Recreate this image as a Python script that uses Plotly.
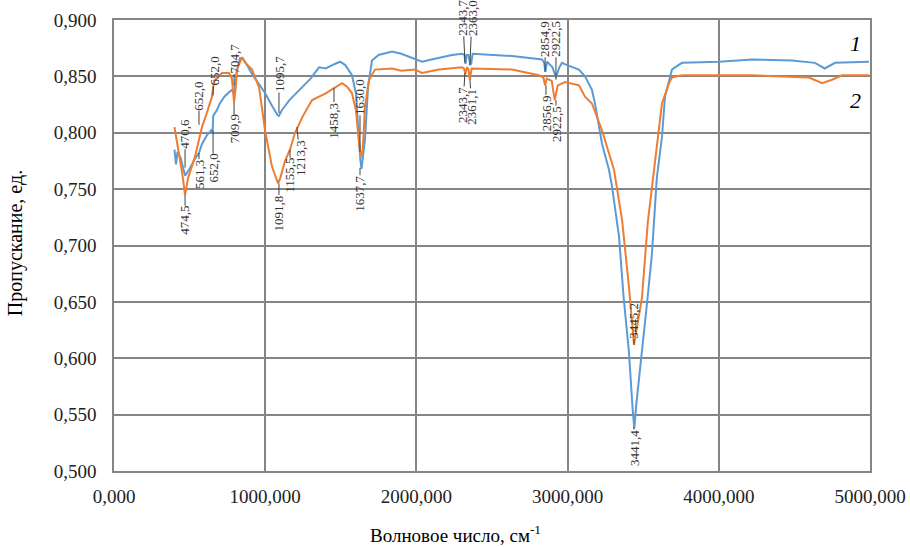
import plotly.graph_objects as go

# ---- Series 1 (blue) ----
wn_1 = [400, 410, 420, 440, 470, 500, 536, 562, 582, 615, 648, 652, 656, 680, 700, 730, 761, 780, 794,
        813, 833, 850, 880, 913, 960, 1000, 1045, 1080, 1091, 1110, 1160, 1243, 1300, 1356, 1400, 1460,
        1495, 1530, 1574, 1600, 1620, 1630, 1637, 1645, 1660, 1680, 1706, 1750, 1839, 1900, 1991, 2037,
        2100, 2235, 2302, 2318, 2325, 2333, 2345, 2350, 2356, 2363, 2372, 2632, 2831, 2845, 2853, 2864,
        2900, 2923, 2945, 2963, 2996, 3075, 3115, 3161, 3181, 3228, 3274, 3294, 3340, 3370, 3406, 3430,
        3441, 3455, 3492, 3530, 3558, 3590, 3624, 3644, 3671, 3690, 3710, 3757, 4001, 4220, 4484, 4636,
        4700, 4769, 4993]
t_1 = [0.785, 0.772, 0.783, 0.778, 0.762, 0.768, 0.777, 0.782, 0.790, 0.798, 0.803, 0.800, 0.815, 0.820,
       0.826, 0.832, 0.836, 0.838, 0.834, 0.855, 0.866, 0.866, 0.860, 0.852, 0.843, 0.835, 0.824, 0.816,
       0.815, 0.820, 0.829, 0.840, 0.848, 0.858, 0.857, 0.861, 0.863, 0.860, 0.851, 0.835, 0.793, 0.775,
       0.768, 0.778, 0.794, 0.840, 0.864, 0.869, 0.872, 0.870, 0.865, 0.863, 0.865, 0.869, 0.870, 0.869,
       0.861, 0.869, 0.869, 0.866, 0.860, 0.862, 0.870, 0.868, 0.865, 0.862, 0.854, 0.863, 0.858, 0.849,
       0.858, 0.862, 0.860, 0.856, 0.850, 0.838, 0.826, 0.790, 0.767, 0.752, 0.708, 0.655, 0.605, 0.555,
       0.538, 0.560, 0.605, 0.655, 0.693, 0.760, 0.796, 0.832, 0.846, 0.856, 0.858, 0.862, 0.863, 0.865,
       0.864, 0.862, 0.857, 0.862, 0.863]

# ---- Series 2 (orange) ----
wn_2 = [400, 420, 450, 470, 490, 536, 582, 615, 648, 661, 690, 714, 761, 780, 794, 805, 813, 847, 870,
        913, 960, 999, 1045, 1085, 1100, 1131, 1164, 1197, 1250, 1310, 1400, 1462, 1508, 1540, 1574,
        1600, 1620, 1630, 1645, 1660, 1687, 1726, 1839, 1900, 1991, 2037, 2150, 2302, 2315, 2323, 2335,
        2345, 2354, 2365, 2632, 2811, 2840, 2851, 2862, 2895, 2915, 2935, 2983, 3075, 3115, 3161, 3228,
        3307, 3360, 3406, 3439, 3492, 3530, 3558, 3624, 3671, 3690, 3757, 4220, 4597, 4636, 4683, 4749,
        4815, 4993]
t_2 = [0.805, 0.790, 0.765, 0.745, 0.760, 0.779, 0.805, 0.818, 0.832, 0.846, 0.850, 0.853, 0.853, 0.848,
       0.827, 0.840, 0.856, 0.867, 0.862, 0.856, 0.840, 0.802, 0.770, 0.755, 0.760, 0.775, 0.785, 0.800,
       0.815, 0.829, 0.835, 0.840, 0.844, 0.841, 0.835, 0.820, 0.794, 0.778, 0.785, 0.823, 0.847, 0.856,
       0.857, 0.855, 0.856, 0.853, 0.856, 0.858, 0.857, 0.852, 0.858, 0.856, 0.847, 0.857, 0.856, 0.851,
       0.849, 0.842, 0.848, 0.846, 0.829, 0.842, 0.845, 0.842, 0.832, 0.826, 0.802, 0.767, 0.723, 0.663,
       0.612, 0.654, 0.720, 0.752, 0.826, 0.844, 0.849, 0.851, 0.851, 0.849, 0.847, 0.844, 0.847, 0.851,
       0.851]

# ---- Peak labels ----
peak_text = ["470,6", "474,5", "561,3", "652,0", "652,0", "704,7", "709,9", "652,0", "1095,7", "1091,8",
             "1155,5", "1213,3", "1458,3", "1630,0", "1637,7", "2343,7", "2363,0", "2343,7", "2361,1",
             "2854,9", "2922,5", "2856,9", "2922,5", "3445,2", "3441,4"]
peak_x = [470, 470, 562, 562, 655, 794, 794, 655, 1091, 1091, 1164, 1210, 1455, 1627, 1627, 2321, 2354,
          2321, 2354, 2851, 2923, 2857, 2923, 3439, 3439]
peak_y = [0.769, 0.745, 0.782, 0.807, 0.833, 0.842, 0.827, 0.802, 0.8175, 0.755, 0.785, 0.805, 0.840,
          0.783, 0.769, 0.862, 0.860, 0.853, 0.847, 0.854, 0.847, 0.842, 0.829, 0.612, 0.539]
# label offsets in px (styling)
peak_ay = [-34, 26, 21, -29, -24, -27, 27, 38, -39, 30, 26, 31, 33, -55, 26, -45, -47, 32, 27, -33, -41,
           28, 24, -24, 21]
peak_ax = [0, 0, 0, 0, 1, 0, 0, 0, 0, 0, 0, 3, 0, 0, 0, -2, 2, -2, 2, 0, 0, 0, 0, 0, 0]

series_names = ["1", "2"]

FONT = "Liberation Serif"
grid = "#858585"

fig = go.Figure()
fig.add_trace(go.Scatter(x=wn_1, y=t_1, mode="lines", name=series_names[0],
                         line=dict(color="#5B9BD5", width=2)))
fig.add_trace(go.Scatter(x=wn_2, y=t_2, mode="lines", name=series_names[1],
                         line=dict(color="#ED7D31", width=2)))

for txt, x, y, ay, ax in zip(peak_text, peak_x, peak_y, peak_ay, peak_ax):
    fig.add_annotation(x=x, y=y, text=txt, textangle=-90, showarrow=True, arrowhead=0,
                       arrowwidth=1, arrowcolor="#404040", ax=ax, ay=ay, borderpad=0,
                       font=dict(family=FONT, size=13, color="#333333"))

# series number labels
fig.add_annotation(x=4901, y=0.8796, text="<i>1</i>", showarrow=False,
                   font=dict(family=FONT, size=22, color="#000000"))
fig.add_annotation(x=4901, y=0.829, text="<i>2</i>", showarrow=False,
                   font=dict(family=FONT, size=22, color="#000000"))

# axis titles
fig.add_annotation(xref="paper", yref="paper", x=0.452, y=0, yshift=-63, xanchor="center",
                   yanchor="middle", text="Волновое число, см<sup>-1</sup>", showarrow=False,
                   font=dict(family=FONT, size=19, color="#000000"))
fig.add_annotation(xref="paper", yref="paper", x=0, y=0.505, xshift=-99, xanchor="center",
                   yanchor="middle", text="Пропускание, ед.", textangle=-90, showarrow=False,
                   font=dict(family=FONT, size=20, color="#000000"))

fig.update_layout(
    width=910, height=547,
    margin=dict(l=114, r=40, t=20, b=76),
    paper_bgcolor="white", plot_bgcolor="white",
    showlegend=False,
    separators=", ",
    font=dict(family=FONT, size=19, color="#222222"),
)
fig.update_xaxes(range=[0, 5000], dtick=1000, tick0=0, tickformat=".3f", showgrid=True,
                 gridcolor=grid, gridwidth=1.5, showline=True, linecolor=grid, linewidth=1.5,
                 mirror=True, zeroline=False, ticks="", ticklabelstandoff=7, automargin=False,
                 tickfont=dict(family=FONT, size=19, color="#222222"))
fig.update_yaxes(range=[0.5, 0.9], dtick=0.05, tick0=0.5, tickformat=".3f", showgrid=True,
                 gridcolor=grid, gridwidth=1.5, showline=True, linecolor=grid, linewidth=1.5,
                 mirror=True, zeroline=False, ticks="", ticklabelstandoff=12, automargin=False,
                 tickfont=dict(family=FONT, size=19, color="#222222"))

fig.write_html("out.html")
